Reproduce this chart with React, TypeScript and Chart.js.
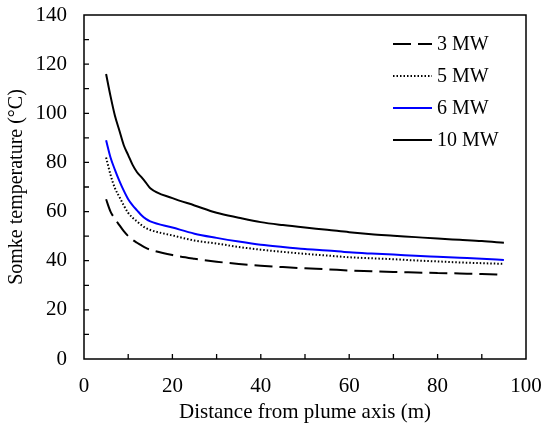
import React, { useEffect, useRef } from 'react';
import { Chart, registerables } from 'chart.js';

Chart.register(...registerables);

const distances = [5, 6, 7, 8, 9, 10, 11, 12, 13, 14, 15, 20, 25, 30, 35, 40, 45, 50, 55, 60, 65, 70, 75, 80, 85, 90, 95];
const series3MW = [65, 60, 57, 54.5, 52, 50, 48.5, 47.3, 46.2, 45.2, 44.5, 42.3, 40.8, 39.6, 38.7, 38, 37.4, 36.9, 36.5, 36, 35.7, 35.4, 35.2, 35, 34.8, 34.6, 34.3];
const series5MW = [82, 75, 69.5, 66, 62.5, 59.5, 57.5, 56, 54.5, 53.3, 52.5, 50.3, 48.2, 47, 45.6, 44.5, 43.6, 42.8, 42.1, 41.4, 41, 40.6, 40.1, 39.7, 39.3, 39, 38.7];
const series6MW = [89, 82, 77, 72.5, 68.5, 65, 62.5, 60.5, 58.5, 57, 56, 53.5, 51, 49.3, 47.8, 46.5, 45.6, 44.8, 44.2, 43.4, 42.9, 42.5, 42, 41.6, 41.2, 40.8, 40.3];
const series10MW = [116, 107, 99, 93, 87, 83, 79, 76, 74, 71.8, 69.5, 65.5, 62.5, 59.5, 57.5, 55.7, 54.5, 53.5, 52.6, 51.6, 50.8, 50.2, 49.6, 49, 48.5, 48, 47.3];
const seriesLabels = ['3 MW', '5 MW', '6 MW', '10 MW'];
const xTitle = 'Distance from plume axis (m)';
const yTitle = 'Somke temperature (\u00B0C)';
const xRange = [0, 100];
const yRange = [0, 140];
const labelStep = 20;
const tickStep = 10;

const FONT = '"Liberation Serif", "Times New Roman", serif';

const framePlugin = {
  id: 'frameAndTicks',
  afterDraw(chart: any) {
    const { ctx, chartArea } = chart;
    const { left, right, top, bottom } = chartArea;
    ctx.save();
    ctx.strokeStyle = '#000';
    ctx.lineWidth = 1.5;
    ctx.strokeRect(left, top, right - left, bottom - top);
    const tl = 5;
    const xs = chart.scales.x;
    const ys = chart.scales.y;
    ctx.lineWidth = 1.3;
    ctx.beginPath();
    xs.ticks.forEach((t: any) => {
      const px = xs.getPixelForValue(t.value);
      if (px <= left + 1 || px >= right - 1) return;
      ctx.moveTo(px, bottom);
      ctx.lineTo(px, bottom - tl);
    });
    ys.ticks.forEach((t: any) => {
      const py = ys.getPixelForValue(t.value);
      if (py >= bottom - 1 || py <= top + 1) return;
      ctx.moveTo(left, py);
      ctx.lineTo(left + tl, py);
    });
    ctx.stroke();

    // legend
    const lx0 = right - 133;
    const lx1 = right - 94;
    const tx = right - 89;
    chart.data.datasets.forEach((ds: any, i: number) => {
      const y = top + 29 + i * 32;
      ctx.beginPath();
      ctx.setLineDash(ds.borderDash || []);
      ctx.strokeStyle = ds.borderColor;
      ctx.lineWidth = ds.borderWidth;
      ctx.moveTo(lx0, y);
      ctx.lineTo(lx1, y);
      ctx.stroke();
      ctx.setLineDash([]);
      ctx.fillStyle = '#000';
      ctx.font = `20px ${FONT}`;
      ctx.textAlign = 'left';
      ctx.textBaseline = 'middle';
      ctx.fillText(ds.label, tx, y + 1);
    });
    ctx.restore();
  },
};

export default function App() {
  const ref = useRef<HTMLCanvasElement | null>(null);
  useEffect(() => {
    document.body.style.margin = '0';
    if (!ref.current) return;
    const mk = (d: number[]) => distances.map((x, i) => ({ x, y: d[i] }));
    const chart = new Chart(ref.current, {
      type: 'line',
      data: {
        datasets: [
          { label: seriesLabels[0], data: mk(series3MW), borderColor: '#000', borderWidth: 2, borderDash: [18, 7], pointRadius: 0, cubicInterpolationMode: 'monotone' },
          { label: seriesLabels[1], data: mk(series5MW), borderColor: '#000', borderWidth: 2, borderDash: [1.5, 2], pointRadius: 0, cubicInterpolationMode: 'monotone' },
          { label: seriesLabels[2], data: mk(series6MW), borderColor: '#0000FF', borderWidth: 2, pointRadius: 0, cubicInterpolationMode: 'monotone' },
          { label: seriesLabels[3], data: mk(series10MW), borderColor: '#000', borderWidth: 2, pointRadius: 0, cubicInterpolationMode: 'monotone' },
        ] as any,
      },
      options: {
        animation: false,
        responsive: false,
        maintainAspectRatio: false,
        layout: { padding: { top: 15, right: 15, left: 0, bottom: 0 } },
        plugins: { legend: { display: false }, tooltip: { enabled: false } },
        scales: {
          x: {
            type: 'linear',
            min: xRange[0],
            max: xRange[1],
            grid: { display: false, drawTicks: false },
            border: { display: false },
            ticks: {
              stepSize: tickStep,
              autoSkip: false,
              maxRotation: 0,
              padding: 15,
              color: '#000',
              font: { family: FONT, size: 21 },
              callback: (v: any) => (Number(v) % labelStep === 0 ? String(v) : ''),
            },
            title: { display: true, text: xTitle, color: '#000', font: { family: FONT, size: 21, lineHeight: 1 }, padding: { top: 0, bottom: 0 } },
            afterFit: (s: any) => { s.height = 64; s.paddingLeft = 0; s.paddingRight = 0; },
          },
          y: {
            type: 'linear',
            min: yRange[0],
            max: yRange[1],
            grid: { display: false, drawTicks: false },
            border: { display: false },
            ticks: {
              stepSize: tickStep,
              autoSkip: false,
              padding: 17,
              color: '#000',
              font: { family: FONT, size: 21 },
              callback: (v: any) => (Number(v) % labelStep === 0 ? String(v) : ''),
            },
            title: { display: true, text: yTitle, color: '#000', font: { family: FONT, size: 20, lineHeight: 1 }, padding: { top: 7, bottom: 0 } },
            afterFit: (s: any) => { s.width = 84; s.paddingTop = 0; s.paddingBottom = 0; },
          },
        },
      } as any,
      plugins: [framePlugin],
    });
    return () => chart.destroy();
  }, []);
  return (
    <div style={{ position: 'absolute', left: 0, top: 0, width: 541, height: 423, background: '#fff' }}>
      <canvas ref={ref} width={541} height={423} style={{ width: 541, height: 423 }} />
    </div>
  );
}
